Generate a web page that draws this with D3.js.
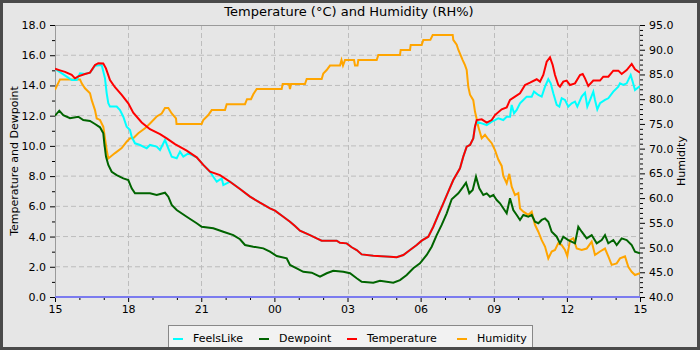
<!DOCTYPE html>
<html><head><meta charset="utf-8">
<script src="https://cdn.jsdelivr.net/npm/d3@7/dist/d3.min.js"></script>
<style>
html,body{margin:0;padding:0;background:#e6e6e6;}
svg{display:block;font-family:"DejaVu Sans",sans-serif;}
</style></head>
<body><svg id="c" width="700" height="350"></svg>
<script>
// x values are hours after 15:00 (0..24)
const xTickLabels = ["15","18","21","00","03","06","09","12","15"];
const seriesNames = ["FeelsLike","Dewpoint","Temperature","Humidity"];
const seriesColors = ["#00ffff","#006400","#ff0000","#ffa500"];

const temperature = [
[0,15.1],[0.205,15.0],[0.41,14.9],[0.685,14.7],[0.82,14.47],[0.956,14.6],[1.23,14.76],[1.436,14.85],
[1.641,15.35],[1.776,15.47],[1.98,15.45],[2.09,15.13],[2.256,14.36],[2.46,13.88],[2.736,13.37],
[3.007,12.82],[3.21,12.2],[3.557,11.55],[3.897,11.1],[4.308,10.78],[4.583,10.5],[4.923,10.12],
[5.403,9.68],[5.813,9.24],[6.084,8.74],[6.359,8.29],[6.769,8.07],[7.18,7.63],[7.59,7.15],[8.0,6.64],
[8.41,6.24],[8.82,5.87],[9.026,5.71],[9.366,5.31],[9.641,4.98],[9.846,4.7],[10.05,4.39],[10.46,4.1],
[10.736,3.88],[10.94,3.73],[11.557,3.73],[11.692,3.59],[11.967,3.55],[12.172,3.29],[12.377,3.11],
[12.583,2.82],[13.058,2.73],[13.744,2.67],[14.018,2.63],[14.29,2.78],[14.564,3.11],[14.839,3.44],
[15.044,3.73],[15.315,3.99],[15.52,4.65],[15.725,5.43],[15.93,6.2],[16.135,6.97],[16.34,7.74],
[16.615,8.52],[16.75,9.29],[16.89,9.95],[17.026,10.06],[17.16,10.5],[17.23,11.27],[17.3,11.71],
[17.506,11.76],[17.711,11.54],[17.916,11.71],[18.05,12.04],[18.326,12.42],[18.531,12.55],[18.667,13.04],
[18.872,13.26],[19.077,13.48],[19.282,14.03],[19.487,14.18],[19.762,14.41],[19.897,14.25],[20.033,14.69],
[20.172,15.57],[20.308,15.86],[20.418,15.35],[20.513,14.69],[20.648,14.03],[20.718,13.92],[20.853,14.25],
[20.993,14.32],[21.128,14.03],[21.333,14.14],[21.538,14.69],[21.649,14.76],[21.744,14.47],[21.879,13.96],
[22.084,14.32],[22.359,14.32],[22.494,14.58],[22.7,14.58],[22.905,14.98],[23.11,14.98],[23.249,14.76],
[23.454,15.02],[23.659,15.42],[23.795,15.07],[24,14.85]];

const feelsLike = [
[0,15.1],[0.48,14.58],[0.685,14.36],[0.89,14.36],[1.026,14.8],[1.23,14.76],[1.436,14.85],[1.641,15.3],
[1.916,15.35],[2.051,14.47],[2.121,13.48],[2.187,12.82],[2.256,12.6],[2.531,12.6],[2.667,12.37],
[2.802,11.93],[2.941,11.27],[3.077,11.05],[3.146,10.6],[3.282,10.17],[3.487,10.06],[3.762,9.84],
[3.897,10.06],[4.172,9.95],[4.308,9.73],[4.513,10.39],[4.648,9.84],[4.788,9.29],[4.993,9.18],
[5.128,9.62],[5.264,9.29],[5.469,9.51],[5.813,9.24],[6.084,8.74],[6.359,8.29],[6.495,7.96],[6.635,7.63],
[6.839,7.85],[6.905,7.41],[7.18,7.63],[7.59,7.15],[8.0,6.64],[8.41,6.24],[8.82,5.87],[9.026,5.71],
[9.366,5.31],[9.641,4.98],[9.846,4.7],[10.05,4.39],[10.46,4.1],[10.736,3.88],[10.94,3.73],[11.557,3.73],
[11.692,3.59],[11.967,3.55],[12.172,3.29],[12.377,3.11],[12.583,2.82],[13.058,2.73],[13.744,2.67],
[14.018,2.63],[14.29,2.78],[14.564,3.11],[14.839,3.44],[15.044,3.73],[15.315,3.99],[15.52,4.65],
[15.725,5.43],[15.93,6.2],[16.135,6.97],[16.34,7.74],[16.615,8.52],[16.75,9.29],[16.89,9.95],
[17.026,10.06],[17.16,10.5],[17.23,11.27],[17.3,11.6],[17.506,11.49],[17.711,11.38],[17.916,11.6],
[18.05,11.71],[18.187,11.83],[18.392,11.71],[18.531,11.93],[18.667,11.93],[18.736,12.71],[18.831,12.16],
[18.942,12.38],[19.077,12.82],[19.213,13.04],[19.352,13.26],[19.557,13.26],[19.651,13.59],[19.828,13.37],
[19.967,13.26],[20.103,13.92],[20.238,14.41],[20.337,14.14],[20.443,13.48],[20.583,12.71],[20.69,12.6],
[20.788,13.15],[20.923,13.04],[21.058,12.6],[21.198,12.82],[21.333,12.93],[21.428,12.6],[21.608,13.26],
[21.744,13.52],[21.838,12.6],[21.977,13.15],[22.084,13.59],[22.154,13.04],[22.248,12.42],[22.359,12.82],
[22.564,13.04],[22.7,13.15],[22.905,13.59],[23.11,13.92],[23.179,14.14],[23.315,14.03],[23.454,14.14],
[23.618,14.69],[23.7,14.25],[23.795,13.7],[24,13.96]];

const dewpoint = [
[0,12.0],[0.176,12.33],[0.34,12.04],[0.615,11.83],[0.956,11.93],[1.161,11.71],[1.436,11.65],[1.641,11.45],
[1.846,11.23],[1.982,10.83],[2.023,10.17],[2.092,9.29],[2.187,8.74],[2.326,8.29],[2.531,8.07],[2.802,7.85],
[3.007,7.74],[3.146,7.19],[3.282,6.86],[3.897,6.86],[4.172,6.75],[4.513,6.9],[4.648,6.64],[4.788,6.09],
[4.993,5.76],[5.403,5.31],[5.813,4.88],[6.018,4.65],[6.495,4.55],[6.905,4.32],[7.315,4.1],[7.59,3.82],
[7.795,3.44],[8.135,3.33],[8.546,3.22],[8.82,3.0],[9.095,2.71],[9.506,2.56],[9.641,2.12],[9.916,1.9],
[10.187,1.67],[10.531,1.61],[10.872,1.34],[11.147,1.57],[11.417,1.74],[11.828,1.67],[12.103,1.57],
[12.377,1.24],[12.583,1.01],[13.058,0.95],[13.333,1.08],[13.879,0.95],[14.154,1.12],[14.429,1.46],
[14.7,1.9],[14.974,2.23],[15.249,2.78],[15.454,3.33],[15.659,4.1],[15.864,4.77],[16.07,5.54],[16.275,6.47],
[16.546,6.86],[16.75,7.3],[16.862,7.56],[16.997,6.86],[17.136,7.08],[17.272,7.96],[17.407,7.19],
[17.571,6.75],[17.711,6.86],[17.846,6.64],[17.982,6.75],[18.121,6.42],[18.256,6.2],[18.392,5.87],
[18.531,5.54],[18.667,6.53],[18.802,5.76],[18.942,5.43],[19.077,5.1],[19.213,5.43],[19.418,5.31],
[19.557,5.43],[19.692,4.98],[19.828,4.88],[19.967,5.1],[20.103,5.2],[20.238,4.98],[20.377,4.32],
[20.583,3.99],[20.718,3.55],[20.853,3.99],[21.058,3.77],[21.333,3.55],[21.469,4.65],[21.608,4.32],
[21.813,3.88],[22.018,4.1],[22.224,3.55],[22.429,3.77],[22.564,4.1],[22.7,3.55],[22.905,3.77],
[23.044,3.44],[23.249,3.88],[23.454,3.77],[23.659,3.44],[23.795,3.0],[24,2.89]];

const humidity = [
[0,81.9],[0.205,84.0],[1.026,84.0],[1.095,83.2],[1.23,82.2],[1.436,81.2],[1.506,79.8],[1.641,77.8],
[1.711,76.1],[1.846,75.8],[1.982,74.4],[2.121,69.7],[2.187,68.0],[2.462,69.1],[2.736,70.1],[2.941,71.4],
[3.077,72.1],[3.212,72.1],[3.417,73.1],[3.692,74.1],[3.897,75.1],[4.172,76.5],[4.377,77.1],[4.513,78.2],
[4.648,78.2],[4.788,77.1],[4.964,76.1],[4.985,75.0],[6.018,75.0],[6.084,75.8],[6.289,76.8],[6.429,77.8],
[6.974,77.8],[7.044,79.0],[7.795,79.0],[7.877,80.0],[8.041,80.0],[8.135,81.0],[8.275,82.07],[9.3,82.07],
[9.341,83.07],[9.6,83.07],[9.641,82.07],[9.682,83.07],[10.256,83.07],[10.326,84.08],[10.941,84.08],
[11.007,85.2],[11.146,85.9],[11.282,86.8],[11.692,86.8],[11.754,87.9],[11.815,86.8],[11.897,87.9],
[12.267,87.9],[12.308,86.8],[12.41,86.8],[12.443,87.9],[13.198,87.9],[13.264,88.94],[14.154,88.94],
[14.182,89.95],[14.564,89.95],[14.593,90.96],[15.044,90.96],[15.11,91.97],[15.4,92.0],[15.495,92.98],
[16.316,92.98],[16.34,92.0],[16.48,91.0],[16.546,90.0],[16.726,87.9],[16.82,86.9],[16.89,85.9],
[16.956,82.5],[17.026,80.9],[17.16,79.8],[17.23,77.5],[17.325,75.5],[17.366,74.4],[17.506,72.1],
[17.641,72.8],[17.777,71.9],[17.916,71.1],[18.05,69.7],[18.187,67.8],[18.326,66.5],[18.392,64.5],
[18.531,63.0],[18.638,64.9],[18.736,62.3],[18.872,60.6],[19.008,61.0],[19.077,57.9],[19.213,57.25],
[19.418,56.6],[19.557,57.25],[19.692,54.6],[19.828,53.2],[19.967,51.5],[20.103,50.2],[20.238,47.8],
[20.377,49.2],[20.513,49.5],[20.648,50.9],[20.788,50.5],[20.923,49.5],[21.017,48.3],[21.128,51.5],
[21.263,51.9],[21.403,49.8],[21.608,49.5],[21.813,49.8],[22.018,51.2],[22.154,48.5],[22.359,49.2],
[22.564,49.8],[22.7,48.2],[22.838,46.5],[23.044,46.8],[23.179,47.8],[23.385,48.2],[23.52,46.1],
[23.659,45.1],[23.795,44.45],[24,44.8]];

const zeroLine = [[0,0],[24,0]];

const svg = d3.select("#c");
const W = 700, H = 350;
const m = {l:55, r:60, t:25, b:53};
const pw = W - m.l - m.r, ph = H - m.t - m.b;

svg.append("rect").attr("x",1.5).attr("y",1.5).attr("width",W-3).attr("height",H-3)
  .attr("fill","#e6e6e6").attr("stroke","#4a4a4a").attr("stroke-width",3);

const x = d3.scaleLinear().domain([0,24]).range([m.l, m.l+pw]);
const yL = d3.scaleLinear().domain([0,18]).range([m.t+ph, m.t]);
const yR = d3.scaleLinear().domain([40,95]).range([m.t+ph, m.t]);

// grid
const g = svg.append("g");
g.selectAll("line.h").data(d3.range(2,18,2)).join("line")
  .attr("x1",m.l).attr("x2",m.l+pw).attr("y1",d=>yL(d)).attr("y2",d=>yL(d))
  .attr("stroke","#bdbdbd").attr("stroke-dasharray","5,3");
g.selectAll("line.v").data(d3.range(3,24,3)).join("line")
  .attr("y1",m.t).attr("y2",m.t+ph).attr("x1",d=>Math.round(x(d))+0.5).attr("x2",d=>Math.round(x(d))+0.5)
  .attr("stroke","#bdbdbd").attr("stroke-dasharray","5,3");

// frame
svg.append("rect").attr("x",m.l+0.5).attr("y",m.t+0.5).attr("width",pw-1).attr("height",ph)
  .attr("fill","none").attr("stroke","#9a9a9a");

// axes
const fmt = d3.format(".1f");
svg.append("g").attr("transform",`translate(${m.l},0)`)
  .call(d3.axisLeft(yL).tickValues(d3.range(0,19,2)).tickFormat(fmt).tickSize(5).tickPadding(4));
svg.append("g").attr("transform",`translate(${m.l},0)`)
  .call(d3.axisLeft(yL).tickValues(d3.range(1,18,2)).tickFormat("").tickSize(3));
svg.append("g").attr("transform",`translate(${m.l+pw},0)`)
  .call(d3.axisRight(yR).tickValues(d3.range(40,96,5)).tickFormat(fmt).tickSize(5).tickPadding(4));
svg.append("g").attr("transform",`translate(${m.l+pw},0)`)
  .call(d3.axisRight(yR).tickValues(d3.range(40,96,1).filter(v=>v%5)).tickFormat("").tickSize(3));
svg.append("g").attr("transform",`translate(0,${m.t+ph})`)
  .call(d3.axisBottom(x).tickValues(d3.range(0,25,3)).tickFormat((d,i)=>xTickLabels[i]).tickSize(5).tickPadding(3));
svg.append("g").attr("transform",`translate(0,${m.t+ph})`)
  .call(d3.axisBottom(x).tickValues(d3.range(0,25,1).filter(v=>v%3)).tickFormat("").tickSize(3));
svg.selectAll(".domain").remove();
svg.selectAll(".tick line").attr("stroke","#000");
svg.selectAll(".tick text").attr("font-size",11).attr("font-family","DejaVu Sans").attr("fill","#000");

// series
svg.append("clipPath").attr("id","cp").append("rect")
  .attr("x",m.l).attr("y",m.t-2).attr("width",pw).attr("height",ph+3);
const plot = svg.append("g").attr("clip-path","url(#cp)");
const lineL = d3.line().x(d=>x(d[0])).y(d=>yL(d[1]));
const lineR = d3.line().x(d=>x(d[0])).y(d=>yR(d[1]));
plot.append("path").attr("d",lineL(zeroLine)).attr("fill","none").attr("stroke","#7b7bef").attr("stroke-width",2);
plot.append("path").attr("d",lineR(humidity)).attr("fill","none").attr("stroke",seriesColors[3]).attr("stroke-width",2);
plot.append("path").attr("d",lineL(feelsLike)).attr("fill","none").attr("stroke",seriesColors[0]).attr("stroke-width",2);
plot.append("path").attr("d",lineL(dewpoint)).attr("fill","none").attr("stroke",seriesColors[1]).attr("stroke-width",2);
plot.append("path").attr("d",lineL(temperature)).attr("fill","none").attr("stroke",seriesColors[2]).attr("stroke-width",2);

// titles
svg.append("text").attr("x",349).attr("y",16).attr("text-anchor","middle")
  .attr("font-size",13).text("Temperature (°C) and Humidity (RH%)");
svg.append("text").attr("transform",`translate(18,${m.t+ph/2}) rotate(-90)`).attr("text-anchor","middle")
  .attr("font-size",11).text("Temperature and Dewpoint");
svg.append("text").attr("transform",`translate(685,${m.t+ph/2}) rotate(-90)`).attr("text-anchor","middle")
  .attr("font-size",11).text("Humidity");

// legend
const lg = svg.append("g");
lg.append("rect").attr("x",168.5).attr("y",325.5).attr("width",364).attr("height",24)
  .attr("fill","#f2f2f2").attr("stroke","#888");
const swX = [173,259,347,457], txX = [193,279,367,477];
seriesNames.forEach((n,i)=>{
  lg.append("line").attr("x1",swX[i]).attr("x2",swX[i]+10).attr("y1",339).attr("y2",339)
    .attr("stroke",seriesColors[i]).attr("stroke-width",2);
  lg.append("text").attr("x",txX[i]).attr("y",341.5).attr("font-size",11).text(n);
});
svg.append("line").attr("x1",0).attr("x2",W).attr("y1",348.5).attr("y2",348.5).attr("stroke","#4a4a4a").attr("stroke-width",3);
</script></body></html>
